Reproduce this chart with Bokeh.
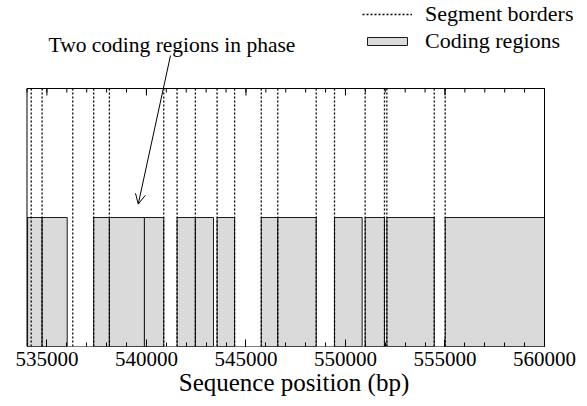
from bokeh.plotting import figure
from bokeh.models import (Range1d, LinearAxis, FixedTicker, BasicTickFormatter,
                          Legend, LegendItem, Label, Arrow, OpenHead, ColumnDataSource)
from bokeh.embed import file_html
from bokeh.resources import INLINE

# ---- data (bp) ----
segment_borders = [534210, 534760, 536300, 537350, 538140, 540870, 541540, 542460,
                   543550, 544430, 545770, 546600, 548530, 549450, 550990, 551960,
                   552080, 554460, 555010]
coding_start = [534030, 534760, 537350, 538140, 539900, 541540, 542460, 543550,
                545770, 546600, 549450, 550990, 552080, 555010]
coding_end = [534760, 536020, 538140, 539900, 540870, 542460, 543370, 544430,
              546600, 548530, 550840, 551960, 554460, 560000]
coding_level = 0.5
border_level = 1.0
x_min, x_max = 534000, 560000
major_ticks = [535000, 540000, 545000, 550000, 555000, 560000]
minor_ticks = [534000, 535000, 536000, 537000, 538000, 539000, 540000, 541000,
               542000, 543000, 544000, 545000, 546000, 547000, 548000, 549000,
               550000, 551000, 552000, 553000, 554000, 555000, 556000, 557000,
               558000, 559000, 560000]
annotation_text = "Two coding regions in phase"
annotation_pos = (535080, 1.167)
arrow_from = (541210, 1.128)
arrow_to = (539590, 0.552)

FONT = "Liberation Serif"

# ---- layout: frame covers the canvas above the x axis ----
W, H = 587, 406
box_left_px, box_right_px, box_top_px, box_bottom_px = 26.5, 544.0, 88.0, 346.0
bp_per_px = (x_max - x_min) / (box_right_px - box_left_px)
units_per_px = 1.0 / (box_bottom_px - box_top_px)
xr = Range1d(x_min - box_left_px * bp_per_px, x_max + (W - box_right_px) * bp_per_px)
yr = Range1d(0, box_bottom_px * units_per_px)

p = figure(width=W, height=H, output_backend="svg", toolbar_location=None,
           x_range=xr, y_range=yr,
           min_border_left=0, min_border_right=0, min_border_top=0,
           min_border_bottom=int(H - box_bottom_px),
           y_axis_location=None, x_axis_location=None)
p.grid.visible = False
p.outline_line_color = None
p.background_fill_color = "white"
p.border_fill_color = "white"

xb = LinearAxis(ticker=FixedTicker(ticks=major_ticks, minor_ticks=minor_ticks),
                formatter=BasicTickFormatter(use_scientific=False),
                axis_label="Sequence position (bp)")
xb.axis_line_color = None
xb.major_tick_in = 7
xb.major_tick_out = 0
xb.minor_tick_in = 4
xb.minor_tick_out = 0
xb.major_label_standoff = 5
xb.major_label_text_font = FONT
xb.major_label_text_font_size = "21px"
xb.major_label_text_color = "black"
xb.axis_label_text_font = FONT
xb.axis_label_text_font_size = "25px"
xb.axis_label_text_font_style = "normal"
xb.axis_label_text_color = "black"
xb.axis_label_standoff = 0
p.add_layout(xb, "below")

# coding regions
src_c = ColumnDataSource(dict(left=coding_start, right=coding_end,
                              bottom=[0] * len(coding_start),
                              top=[coding_level] * len(coding_start)))
rc = p.quad(left="left", right="right", bottom="bottom", top="top", source=src_c,
            fill_color="#dadada", line_color="#1a1a1a", line_width=1)

# segment borders
src_b = ColumnDataSource(dict(x0=segment_borders, x1=segment_borders,
                              y0=[0] * len(segment_borders),
                              y1=[border_level] * len(segment_borders)))
rb = p.segment(x0="x0", y0="y0", x1="x1", y1="y1", source=src_b,
               line_color="black", line_width=1.3, line_dash="2 2")

# plot border box
p.quad(left=[x_min], right=[x_max], bottom=[0], top=[border_level],
       fill_color=None, line_color="black", line_width=1)

# mirrored ticks on the top border
maj_len = 7 * units_per_px
min_len = 4 * units_per_px
p.segment(x0=major_ticks, x1=major_ticks, y0=[border_level] * len(major_ticks),
          y1=[border_level - maj_len] * len(major_ticks), line_color="black", line_width=1)
p.segment(x0=minor_ticks, x1=minor_ticks, y0=[border_level] * len(minor_ticks),
          y1=[border_level - min_len] * len(minor_ticks), line_color="black", line_width=1)

legend = Legend(items=[LegendItem(label="Segment borders", renderers=[rb]),
                       LegendItem(label="Coding regions", renderers=[rc])],
                location=(362, 292), orientation="vertical",
                label_text_font=FONT, label_text_font_size="22px",
                label_text_color="black", label_height=25,
                glyph_width=50, glyph_height=10, label_standoff=13, spacing=1,
                padding=0, margin=0, border_line_color=None,
                background_fill_alpha=0)
p.add_layout(legend, "center")

lab = Label(x=annotation_pos[0], y=annotation_pos[1], text=annotation_text,
            text_font=FONT, text_font_size="21.5px", text_color="black",
            text_baseline="alphabetic", text_align="left")
p.add_layout(lab)

arr = Arrow(x_start=arrow_from[0], y_start=arrow_from[1],
            x_end=arrow_to[0], y_end=arrow_to[1],
            line_color="black", line_width=1,
            end=OpenHead(size=10, line_color="black", line_width=1))
p.add_layout(arr)

open("out.html", "w").write(file_html(p, INLINE))
